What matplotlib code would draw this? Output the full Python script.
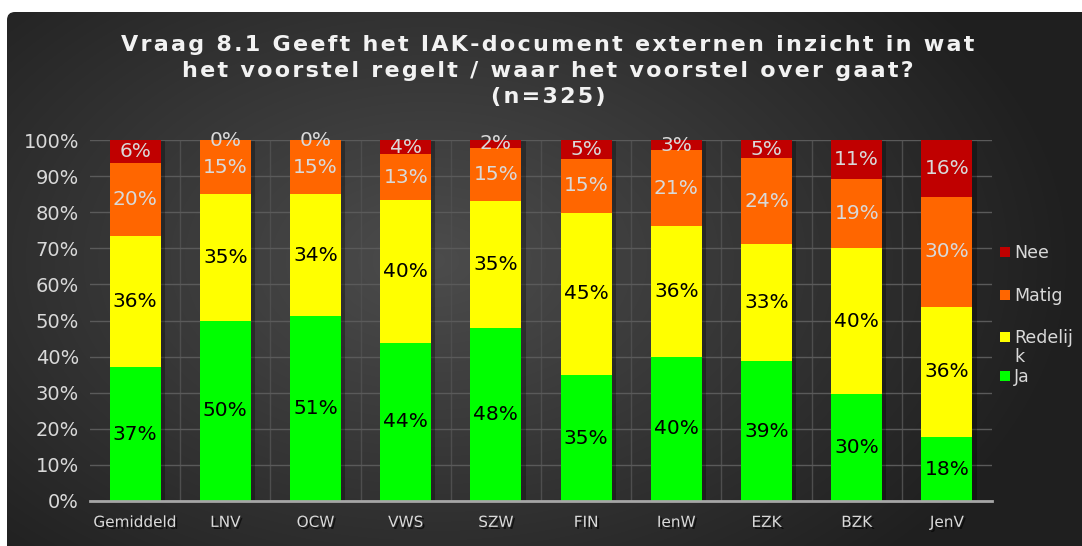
import numpy as np
import matplotlib
matplotlib.use("Agg")
import matplotlib.pyplot as plt
import matplotlib.patheffects as pe
from matplotlib.patches import FancyBboxPatch, Rectangle

categories = ["Gemiddeld", "LNV", "OCW", "VWS", "SZW", "FIN", "IenW", "EZK", "BZK", "JenV"]
ja       = [37.1, 49.9, 51.2, 43.8, 47.9, 34.9, 39.9, 38.7, 29.6, 17.7]
redelijk = [36.3, 35.1, 33.8, 39.6, 35.2, 45.0, 36.3, 32.6, 40.4, 36.1]
matig    = [20.3, 15.0, 15.0, 12.6, 14.8, 14.8, 21.0, 23.6, 19.2, 30.4]
nee      = [6.3, 0.0, 0.0, 4.0, 2.1, 5.3, 2.8, 5.1, 10.8, 15.8]
series_names = ["Ja", "Redelijk", "Matig", "Nee"]
legend_labels = ["Nee", "Matig", "Redelij\nk", "Ja"]
colors = ["#00ff00", "#ffff00", "#ff6600", "#c00000"]
label_colors = ["black", "black", "#d9d9d9", "#d9d9d9"]
yticks = [0, 10, 20, 30, 40, 50, 60, 70, 80, 90, 100]
title = "Vraag 8.1 Geeft het IAK-document externen inzicht in wat\nhet voorstel regelt / waar het voorstel over gaat?\n(n=325)"

W, H = 1082, 546
fig = plt.figure(figsize=(W / 100, H / 100), dpi=100)
fig.patch.set_facecolor("white")

# background with radial gradient and rounded corner
bg = fig.add_axes([0, 0, 1, 1])
bg.set_xlim(0, W)
bg.set_ylim(H, 0)
bg.axis("off")
yy, xx = np.mgrid[0:H, 0:W]
r = np.sqrt(((xx - 430) / 650.0) ** 2 + ((yy - 260) / 420.0) ** 2)
r = np.clip(r, 0, 1)
c0 = np.array([0x4c, 0x4c, 0x4c]) / 255
c1 = np.array([0x1f, 0x1f, 0x1f]) / 255
img = c0[None, None, :] * (1 - r[..., None]) + c1[None, None, :] * r[..., None]
im = bg.imshow(img, extent=(0, W, H, 0), zorder=0)
clip = FancyBboxPatch((7, 12), W + 20, H + 20, boxstyle="round,pad=0,rounding_size=8",
                      transform=bg.transData, facecolor="none", edgecolor="none")
bg.add_patch(clip)
im.set_clip_path(clip)

# title with letter spacing
spaced = "\n".join("\u200a".join(line) for line in title.split("\n"))
fig.text(548 / W, 1 - 71 / H, spaced, ha="center", va="center", color="#f2f2f2",
         fontsize=16, fontweight="bold", linespacing=1.37)

ax = fig.add_axes([90 / W, 1 - 501 / H, 902 / W, 361 / H])
ax.set_facecolor("none")
x = np.arange(len(categories))
width = 0.565

data = [ja, redelijk, matig, nee]
totals = np.sum(data, axis=0)
# soft shadow behind the bars
ax.bar(x, totals, width, color="none", edgecolor="none", zorder=2,
       path_effects=[pe.SimplePatchShadow(offset=(3, -1), shadow_rgbFace="black", alpha=0.3)])
bottom = np.zeros(len(categories))
for vals, col, lcol, name in zip(data, colors, label_colors, series_names):
    vals = np.array(vals)
    ax.bar(x, vals, width, bottom=bottom, color=col, edgecolor="none", zorder=3, label=name)
    for xi, b, v in zip(x, bottom, vals):
        ax.text(xi, b + v / 2, f"{round(v):d}%", ha="center", va="center",
                color=lcol, fontsize=14.5, zorder=4)
    bottom += vals

ax.set_xlim(-0.5, len(categories) - 0.5)
ax.set_ylim(0, 100)
ax.set_yticks(yticks)
ax.set_yticklabels([f"{t}%" for t in yticks])
ax.set_xticks(x)
ax.set_xticks(x[:-1] + 0.5, minor=True)
ax.set_xticklabels(categories)
ax.grid(axis="y", color="#5a5a5a", linewidth=1, zorder=1)
ax.grid(axis="x", which="minor", color="#4e4e4e", linewidth=1, zorder=1)
ax.tick_params(axis="y", length=0, labelsize=14, labelcolor="#d9d9d9", pad=8)
ax.tick_params(axis="x", which="major", direction="in", length=4, color="#bfbfbf",
               labelsize=11, labelcolor="#d9d9d9", pad=10)
ax.tick_params(axis="x", which="minor", length=0)
for lbl in ax.get_xticklabels():
    lbl.set_path_effects([pe.withSimplePatchShadow(offset=(1.5, -1.5), shadow_rgbFace="black", alpha=0.6)])
for s in ["top", "right", "left"]:
    ax.spines[s].set_visible(False)
ax.spines["bottom"].set_color("#a6a6a6")
ax.spines["bottom"].set_linewidth(2)
ax.spines["bottom"].set_zorder(5)

# legend on the right
leg_y = [252, 295, 337, 376]
leg_colors = colors[::-1]
for lab, ly, col in zip(legend_labels, leg_y, leg_colors):
    bg.add_patch(Rectangle((1000, ly - 5), 10, 10, facecolor=col, edgecolor="none", zorder=3))
    bg.text(1014, ly - 8, lab, ha="left", va="top", color="#d9d9d9", fontsize=12.5,
            linespacing=1.05, zorder=3)

fig.savefig("out.png", dpi=100)
